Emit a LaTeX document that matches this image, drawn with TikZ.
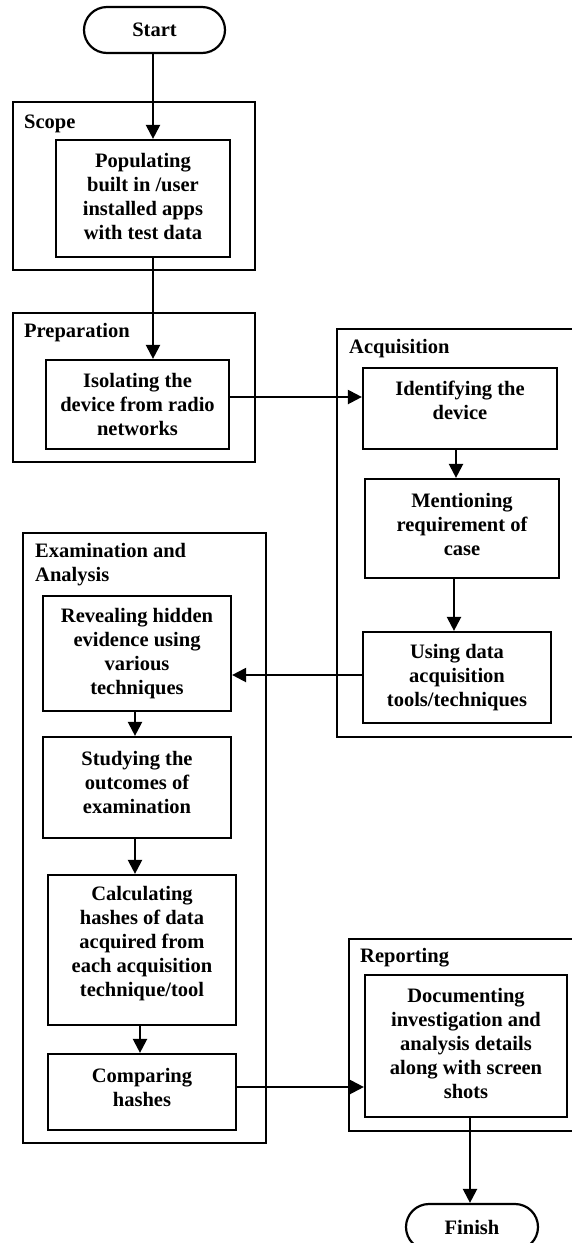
\documentclass[tikz,border=0pt]{standalone}
\usepackage{fontspec}
\setmainfont{Liberation Serif}
\usetikzlibrary{arrows.meta}
\begin{document}
\begin{tikzpicture}[x=1pt,y=1pt,
  every node/.style={font=\bfseries\fontsize{20.5}{24}\selectfont},
  box/.style={draw,line width=2.2pt,inner sep=0pt,align=center},
  txt/.style={align=center,inner sep=0pt},
  term/.style={box,rounded corners=23pt},
  frame/.style={draw,line width=2.2pt},
  glabel/.style={anchor=west,inner sep=0pt,align=left},
  arr/.style={draw,line width=2.2pt,-{Triangle[length=14pt,width=14pt]}}
]
\useasboundingbox (0,0) rectangle (571,-1243);
% frames
\draw[frame] (13,-102) rectangle (255,-270);
\draw[frame] (13,-313) rectangle (255,-462);
\draw[frame] (337,-329) rectangle (573,-737);
\draw[frame] (23,-533) rectangle (266,-1143);
\draw[frame] (349,-939) rectangle (573,-1131);
% frame labels
\node[glabel] (lscope) at (24,-124) {Scope};
\node[glabel] (lprep) at (24,-333) {Preparation};
\node[glabel] (lacq) at (349,-349) {Acquisition};
\node[glabel] (lexam) at (35,-564.5) {Examination and\\Analysis};
\node[glabel] (lrep) at (360,-958) {Reporting};
% nodes
\node[term,minimum width=141pt,minimum height=46pt] (start) at (154.5,-30) {Start};
\node[box,minimum width=174pt,minimum height=117pt,label={[txt,yshift=2.5pt]center:Populating\\built in /user\\installed apps\\with test data}] (pop) at (143,-198.5) {};
\node[box,minimum width=183pt,minimum height=89pt] (iso) at (137.5,-404.5) {Isolating the\\device from radio\\networks};
\node[box,minimum width=194pt,minimum height=81pt,label={[txt,yshift=8.5pt]center:Identifying the\\device}] (ident) at (460,-408.5) {};
\node[box,minimum width=194pt,minimum height=99pt,label={[txt,yshift=4.5pt]center:Mentioning\\requirement of\\case}] (ment) at (462,-528.5) {};
\node[box,minimum width=188pt,minimum height=91pt] (using) at (457,-677.5) {Using data\\acquisition\\tools/techniques};
\node[box,minimum width=188pt,minimum height=115pt] (rev) at (137,-653.5) {Revealing hidden\\evidence using\\various\\techniques};
\node[box,minimum width=188pt,minimum height=101pt,label={[txt,yshift=5.5pt]center:Studying the\\outcomes of\\examination}] (stud) at (137,-787.5) {};
\node[box,minimum width=188pt,minimum height=150pt,label={[txt,yshift=6pt]center:Calculating\\hashes of data\\acquired from\\each acquisition\\technique/tool}] (calc) at (142,-950) {};
\node[box,minimum width=188pt,minimum height=76pt,label={[txt,yshift=5pt]center:Comparing\\hashes}] (comp) at (142,-1092) {};
\node[box,minimum width=202pt,minimum height=142pt,label={[txt,yshift=3pt]center:Documenting\\investigation and\\analysis details\\along with screen\\shots}] (doc) at (466,-1046) {};
\node[term,minimum width=132pt,minimum height=46pt] (finish) at (472,-1227) {Finish};
% connectors
\draw[arr] ([xshift=-1.5pt]start.south) -- ([xshift=-1.5pt]start.south |- pop.north);
\draw[arr] ([xshift=10pt]pop.south) -- ([xshift=10pt]pop.south |- iso.north);
\draw[arr] ([yshift=7.5pt]iso.east) -- ([yshift=7.5pt]iso.east -| ident.west);
\draw[arr] ([xshift=-4pt]ident.south) -- ([xshift=-4pt]ident.south |- ment.north);
\draw[arr] ([xshift=-8pt]ment.south) -- ([xshift=-8pt]ment.south |- using.north);
\draw[arr] ([yshift=2.5pt]using.west) -- ([yshift=2.5pt]using.west -| rev.east);
\draw[arr] ([xshift=-2pt]rev.south) -- ([xshift=-2pt]rev.south |- stud.north);
\draw[arr] ([xshift=-2pt]stud.south) -- ([xshift=-2pt]stud.south |- calc.north);
\draw[arr] ([xshift=-2pt]calc.south) -- ([xshift=-2pt]calc.south |- comp.north);
\draw[arr] ([yshift=5pt]comp.east) -- ([yshift=5pt]comp.east -| doc.west);
\draw[arr] ([xshift=4pt]doc.south) -- ([xshift=4pt]doc.south |- finish.north);
\end{tikzpicture}
\end{document}
